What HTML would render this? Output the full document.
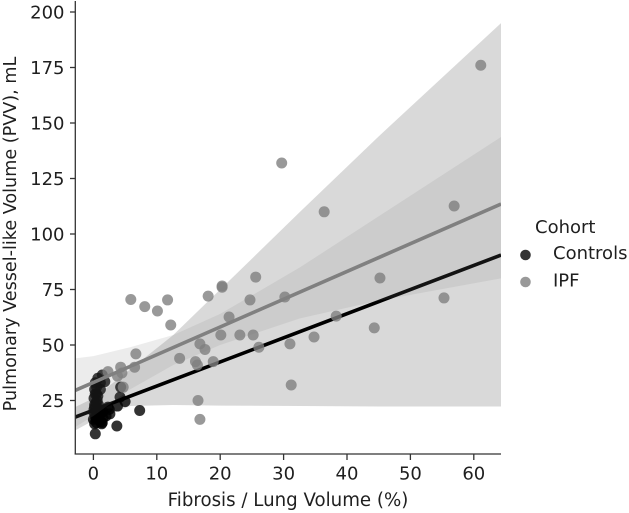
<!DOCTYPE html>
<html>
<head>
<meta charset="utf-8">
<style>
html,body{margin:0;padding:0;background:#fff;width:629px;height:513px;overflow:hidden}
svg{display:block;filter:blur(0.35px)}
text{font-family:"DejaVu Sans","Liberation Sans",sans-serif;fill:#1f1f1f}
</style>
</head>
<body>
<svg id="chart" width="629" height="513" viewBox="0 0 629 513" xmlns="http://www.w3.org/2000/svg">
<defs><clipPath id="plot-clip"><rect x="75" y="0" width="426" height="454"/></clipPath></defs>
<g id="plot" clip-path="url(#plot-clip)"></g>
<g id="axes"></g>
<text x="288" y="506" font-size="18.2" text-anchor="middle">Fibrosis / Lung Volume (%)</text>
<text transform="translate(16,234) rotate(-90)" font-size="17.6" text-anchor="middle">Pulmonary Vessel-like Volume (PVV), mL</text>
<g>
<text x="535" y="233" font-size="18">Cohort</text>
<circle cx="525.5" cy="255" r="5.3" fill="#000" fill-opacity="0.8"/>
<text x="553" y="259" font-size="18">Controls</text>
<circle cx="525.5" cy="282" r="5.3" fill="#808080" fill-opacity="0.8"/>
<text x="553" y="286.5" font-size="18">IPF</text>
</g>
</svg>
<script>
var xTickLabels = [0, 10, 20, 30, 40, 50, 60];
var yTickLabels = [25, 50, 75, 100, 125, 150, 175, 200];

var controlsX = [0.3,3.7,7.3,5,4.2,3.8,2.6,1.4,0.5,0.2,0.9,1.5,0.3,0.1,0.6,1,0.2,0.4,0.1,0.3,0.2,0.5,1.1,1.4,0.7,1.8,2.3,2,1,0,0.8,1.5,4.3,2.5,1.2,0.4,0.6,0.1,0.9,1.3,0.5,0.2,0.7,1.1,0.3,0.8];
var controlsY = [10,13.5,20.5,24.5,26.5,22.5,19,15,15,14.5,16,17,18,19.5,20,21,22,24,26,28,30,31,33,36.5,35,33.5,22,18,18.5,16.5,23,20,31,21,15.5,17,25,21,19,14.5,28,23,27,30,33,20];

var ipfX = [61.1,29.7,36.4,56.9,45.2,55.3,44.3,38.3,34.8,31.2,31,30.2,25.6,24.7,25.2,26.1,23.1,21.4,20.3,20.3,18.1,20.1,18.9,17.6,16.8,16.1,16.4,16.5,16.8,13.6,12.2,11.7,10.1,8.1,5.9,6.7,6.5,2.3,4.3,4.5,4.7,3.8];
var ipfY = [176,132,110,112.6,80.2,71.2,57.7,63,53.6,32,50.5,71.6,80.6,70.3,54.5,49,54.5,62.6,76,76.6,72,54.5,42.5,48,50.5,42.5,41,25,16.5,44,59,70.3,65.3,67.3,70.5,46,40,38,40,37.4,31,36];

var lineX = [-2.9, 64.3];
var controlsLineY = [17.5, 90.5];
var ipfLineY = [29.5, 113.5];

var bandX = [-2.9,0,5.8,12.6,20,32.6,45,64.3];
var controlsUpper = [22,26,39,54.5,75,110,144,195];
var controlsLower = [11.5,16,22.5,23,22.7,22.5,22.3,22.3];
var ipfUpper = [44,45,49,54.5,64,85,108,143.7];
var ipfLower = [13,18,30,41,50,62,70,80];

function sx(v){ return 93.4 + v * 6.34; }
function sy(v){ return 456 - v * 2.22; }
var NS = 'http://www.w3.org/2000/svg';
function mk(tag, attrs, parent){
  var el = document.createElementNS(NS, tag);
  for (var k in attrs) el.setAttribute(k, attrs[k]);
  parent.appendChild(el);
  return el;
}
var plot = document.getElementById('plot');
var axes = document.getElementById('axes');

function drawSeries(name, xs, ys, upper, lower, lineY, color){
  var pts = [];
  for (var i = 0; i < bandX.length; i++) pts.push(sx(bandX[i]) + ',' + sy(upper[i]));
  for (var j = bandX.length - 1; j >= 0; j--) pts.push(sx(bandX[j]) + ',' + sy(lower[j]));
  var band = mk('polygon', {points: pts.join(' '), fill: color, 'fill-opacity': 0.15}, plot);
  
  
  for (var p = 0; p < xs.length; p++) {
    var c = mk('circle', {cx: sx(xs[p]), cy: sy(ys[p]), r: 5.5, fill: color, 'fill-opacity': 0.8}, plot);
    
    
  }
  var l = mk('line', {x1: sx(lineX[0]), y1: sy(lineY[0]), x2: sx(lineX[1]), y2: sy(lineY[1]), stroke: color, 'stroke-width': 3.6}, plot);
  
  
}
drawSeries('controls', controlsX, controlsY, controlsUpper, controlsLower, controlsLineY, '#000000');
drawSeries('ipf', ipfX, ipfY, ipfUpper, ipfLower, ipfLineY, '#808080');

var spineL = mk('line', {x1: 75.3, y1: 1, x2: 75.3, y2: 454.5, stroke: '#333', 'stroke-width': 1.3}, axes);


var spineB = mk('line', {x1: 74.7, y1: 454, x2: 501, y2: 454, stroke: '#333', 'stroke-width': 1.3}, axes);



xTickLabels.forEach(function(v){
  var t = mk('line', {x1: sx(v), y1: 454, x2: sx(v), y2: 460, stroke: '#333', 'stroke-width': 1.3}, axes);
  
  
  var s = mk('text', {x: sx(v), y: 479.5, 'font-size': 18, 'text-anchor': 'middle'}, axes);
  
  
  s.textContent = v;
});
yTickLabels.forEach(function(v){
  var t = mk('line', {x1: 70, y1: sy(v), x2: 75, y2: sy(v), stroke: '#333', 'stroke-width': 1.3}, axes);
  
  
  var s = mk('text', {x: 64.5, y: sy(v) + 6.6, 'font-size': 18, 'text-anchor': 'end'}, axes);
  
  
  s.textContent = v;
});
</script>
</body>
</html>
